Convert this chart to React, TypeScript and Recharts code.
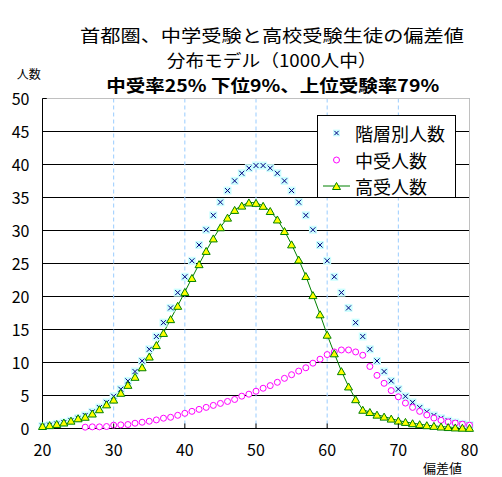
import React from 'react';
import { ComposedChart, Line, XAxis, YAxis, CartesianGrid, ReferenceLine, Legend } from 'recharts';

const deviation = [
  20, 21, 22, 23, 24, 25, 26, 27, 28, 29,
  30, 31, 32, 33, 34, 35, 36, 37, 38, 39,
  40, 41, 42, 43, 44, 45, 46, 47, 48, 49,
  50, 51, 52, 53, 54, 55, 56, 57, 58, 59,
  60, 61, 62, 63, 64, 65, 66, 67, 68, 69,
  70, 71, 72, 73, 74, 75, 76, 77, 78, 79,
  80,
];

const allCounts = [
  0.38, 0.51, 0.69, 0.91, 1.19, 1.55, 1.98, 2.52, 3.17, 3.96,
  4.88, 5.96, 7.21, 8.63, 10.23, 12.0, 13.94, 16.04, 18.27, 20.59,
  22.99, 25.41, 27.8, 30.11, 32.3, 34.29, 36.05, 37.52, 38.67, 39.45,
  39.84, 39.84, 39.45, 38.67, 37.52, 36.05, 34.29, 32.3, 30.11, 27.8,
  25.41, 22.99, 20.59, 18.27, 16.04, 13.94, 12.0, 10.23, 8.63, 7.21,
  5.96, 4.88, 3.96, 3.17, 2.52, 1.98, 1.55, 1.19, 0.91, 0.69,
  0.51,
];

const juniorCounts = [
  null, null, null, null, null, null, 0.2, 0.25, 0.25, 0.3,
  0.5, 0.55, 0.6, 0.8, 0.95, 1.1, 1.3, 1.56, 1.7, 2.0,
  2.3, 2.6, 2.9, 3.2, 3.5, 3.8, 4.1, 4.4, 4.9, 5.2,
  5.65, 6.1, 6.5, 7.0, 7.6, 8.15, 8.7, 9.2, 9.9, 10.5,
  11.2, 11.6, 11.9, 11.9, 11.6, 11.1, 9.4, 8.05, 6.85, 5.75,
  4.8, 3.85, 3.2, 2.6, 2.05, 1.58, 1.25, 1.0, 0.82, 0.65,
  0.5,
];

const highCounts = [
  0.38, 0.51, 0.69, 0.91, 1.19, 1.55, 1.78, 2.27, 2.92, 3.66,
  4.38, 5.41, 6.61, 7.83, 9.28, 10.9, 12.64, 14.48, 16.57, 18.59,
  20.69, 22.81, 24.9, 26.91, 28.8, 30.49, 31.95, 33.12, 33.77, 34.25,
  34.19, 33.74, 32.95, 31.67, 29.92, 27.9, 25.59, 23.1, 20.21, 17.3,
  14.21, 11.39, 8.69, 6.37, 4.44, 2.84, 2.5, 2.1, 1.8, 1.5,
  1.2, 1.0, 0.8, 0.65, 0.5, 0.4, 0.3, 0.22, 0.16, 0.12,
  0.1,
];

const xTicks = [20, 30, 40, 50, 60, 70, 80];
const yTicks = [0, 5, 10, 15, 20, 25, 30, 35, 40, 45, 50];
const seriesKeys = ['all', 'junior', 'high'];
const seriesNames = ['階層別人数', '中受人数', '高受人数'];
const titleLine1 = '首都圏、中学受験と高校受験生徒の偏差値';
const titleLine2 = '分布モデル（1000人中）';
const titleLine3 = '中受率25% 下位9%、上位受験率79%';
const yLabel = '人数';
const xLabel = '偏差値';

const data = deviation.map((x, i) => ({
  x,
  all: allCounts[i],
  junior: juniorCounts[i],
  high: highCounts[i],
}));

const FONT = '"Noto Sans CJK JP", "Noto Sans", sans-serif';

const XMark = ({ cx, cy, s = 1 }: any) => (
  <g>
    <rect x={cx - 4 * s} y={cy - 4 * s} width={8 * s} height={8 * s} fill="#ccffff" />
    <line x1={cx - 2.5 * s} y1={cy - 2.5 * s} x2={cx + 2.5 * s} y2={cy + 2.5 * s} stroke="#000080" strokeWidth={1} />
    <line x1={cx - 2.5 * s} y1={cy + 2.5 * s} x2={cx + 2.5 * s} y2={cy - 2.5 * s} stroke="#000080" strokeWidth={1} />
  </g>
);

const CircleMark = ({ cx, cy }: any) => (
  <circle cx={cx} cy={cy} r={3} fill="#ffffff" stroke="#ff00ff" strokeWidth={1} />
);

const TriMark = ({ cx, cy }: any) => (
  <polygon
    points={`${cx},${cy - 3.5} ${cx + 4},${cy + 3.5} ${cx - 4},${cy + 3.5}`}
    fill="#ffff00"
    stroke="#008000"
    strokeWidth={1}
  />
);

const makeDot = (Comp: any) => (props: any) => {
  const { cx, cy, index, value } = props;
  if (value == null || cy == null || isNaN(cy)) return <g key={`d-${index}`} />;
  return <Comp key={`d-${index}`} cx={cx} cy={cy} />;
};

const XTick = (props: any) => {
  const { x, y, payload } = props;
  const v = payload.value;
  return (
    <g>
      {v > 20 && v < 80 && <line x1={x} x2={x} y1={y} y2={y - 5} stroke="#000" />}
      <text x={x} y={y + 27.5} textAnchor="middle" fontFamily={FONT} fontSize={16} fill="#000">
        {v}
      </text>
    </g>
  );
};

const YTick = (props: any) => {
  const { x, y, payload } = props;
  return (
    <text x={x - 13} y={y + 6.5} textAnchor="end" fontFamily={FONT} fontSize={16} fill="#000">
      {payload.value}
    </text>
  );
};

const renderLegend = () => {
  const rowCenters = [17, 43.5, 70];
  return (
    <div
      style={{
        boxSizing: 'border-box',
        width: 139,
        height: 83,
        border: '1px solid #000',
        background: '#fff',
        position: 'relative',
        fontFamily: FONT,
        fontSize: 18,
        color: '#000',
      }}
    >
      {seriesKeys.map((key, i) => (
        <div
          key={key}
          style={{ position: 'absolute', left: 0, top: rowCenters[i] - 13, height: 26, display: 'flex', alignItems: 'center' }}
        >
          <svg width={37} height={26} style={{ display: 'block' }}>
            {key === 'all' && <XMark cx={18.5} cy={13} s={0.85} />}
            {key === 'junior' && <CircleMark cx={18.5} cy={13} />}
            {key === 'high' && (
              <g>
                <line x1={5} x2={32} y1={13} y2={13} stroke="#008000" strokeWidth={1} />
                <TriMark cx={18.5} cy={13} />
              </g>
            )}
          </svg>
          <span style={{ lineHeight: '26px', whiteSpace: 'nowrap' }}>{seriesNames[i]}</span>
        </div>
      ))}
    </div>
  );
};

export default function App() {
  return (
    <div style={{ position: 'absolute', left: 0, top: 0, width: 502, height: 477, background: '#fff' }}>
      <ComposedChart
        width={502}
        height={477}
        data={data}
        margin={{ top: 98.5, right: 32.5, bottom: 0, left: 0 }}
      >
        <CartesianGrid vertical={false} stroke="#000000" strokeWidth={1} />
        <CartesianGrid horizontal={false} stroke="#99ccff" strokeDasharray="4 3" strokeWidth={1} />
        <XAxis
          dataKey="x"
          type="number"
          domain={[20, 80]}
          ticks={xTicks}
          interval={0}
          height={48.5}
          tickSize={0}
          tickMargin={0}
          tickLine={false}
          axisLine={{ stroke: '#000', strokeWidth: 1 }}
          tick={<XTick />}
        />
        <YAxis
          type="number"
          domain={[0, 50]}
          ticks={yTicks}
          interval={0}
          width={42.5}
          tickSize={0}
          tickMargin={0}
          tickLine={false}
          axisLine={{ stroke: '#000', strokeWidth: 1 }}
          tick={<YTick />}
        />
        <ReferenceLine y={50} stroke="#c0c0c0" strokeWidth={1} ifOverflow="visible" />
        <ReferenceLine x={80} stroke="#c0c0c0" strokeWidth={1} ifOverflow="visible" />
        <ReferenceLine segment={[{ x: 20, y: 50 }, { x: 20.6, y: 50 }]} stroke="#000" strokeWidth={1} ifOverflow="visible" />
        <Line
          dataKey="all"
          name={seriesNames[0]}
          stroke="none"
          isAnimationActive={false}
          dot={makeDot(XMark)}
          activeDot={false}
        />
        <Line
          dataKey="junior"
          name={seriesNames[1]}
          stroke="none"
          isAnimationActive={false}
          dot={makeDot(CircleMark)}
          activeDot={false}
        />
        <Line
          dataKey="high"
          name={seriesNames[2]}
          type="linear"
          stroke="#008000"
          strokeWidth={1}
          isAnimationActive={false}
          dot={makeDot(TriMark)}
          activeDot={false}
        />
        <Legend
          layout="horizontal"
          verticalAlign="middle"
          align="center"
          content={renderLegend}
          wrapperStyle={{ left: 317, top: 115, width: 139, height: 83 }}
        />
      </ComposedChart>
      <svg
        width={502}
        height={477}
        style={{ position: 'absolute', left: 0, top: 0, pointerEvents: 'none' }}
      >
        <text x={272} y={41.5} textAnchor="middle" fontFamily={FONT} fontSize={17} textLength={384} lengthAdjust="spacingAndGlyphs" fill="#000">
          {titleLine1}
        </text>
        <text x={271.7} y={66.5} textAnchor="middle" fontFamily={FONT} fontSize={17} textLength={210} lengthAdjust="spacingAndGlyphs" fill="#000">
          {titleLine2}
        </text>
        <text x={272.7} y={91.5} textAnchor="middle" fontFamily={FONT} fontSize={17} fontWeight="bold" textLength={333} lengthAdjust="spacingAndGlyphs" fill="#000">
          {titleLine3}
        </text>
        <text x={28.7} y={79} textAnchor="middle" fontFamily={FONT} fontSize={12} fill="#000">
          {yLabel}
        </text>
        <text x={442.5} y={473} textAnchor="middle" fontFamily={FONT} fontSize={13} fill="#000">
          {xLabel}
        </text>
      </svg>
    </div>
  );
}
